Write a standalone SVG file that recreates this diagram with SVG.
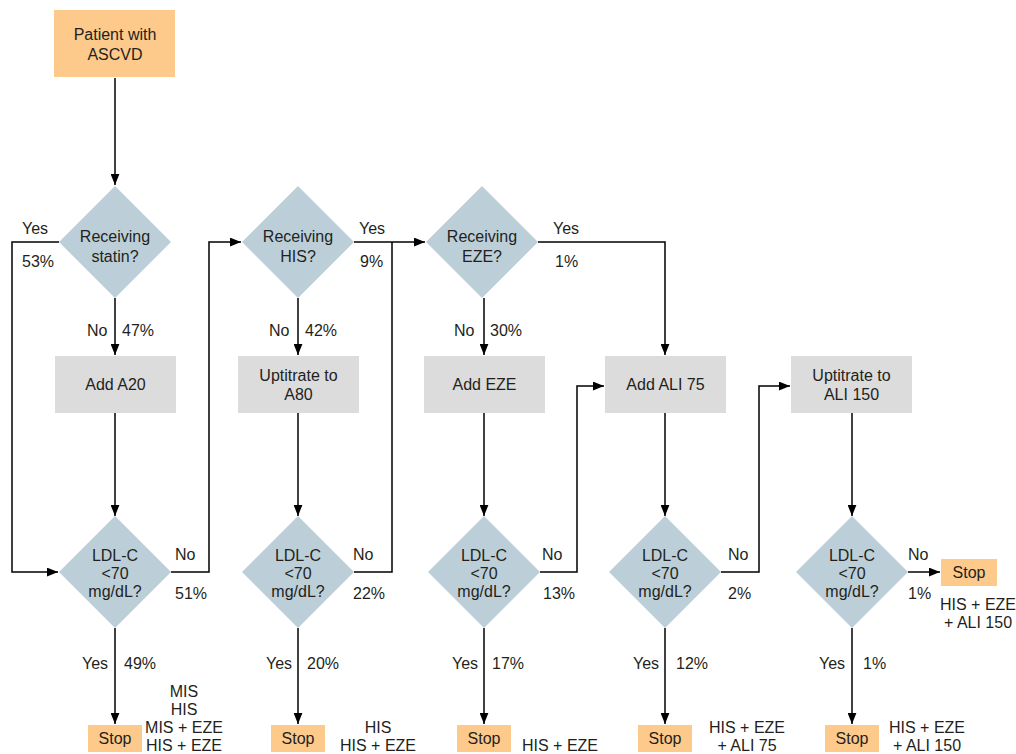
<svg xmlns="http://www.w3.org/2000/svg" width="1016" height="754" viewBox="0 0 1016 754">
<style>
text{font-family:"Liberation Sans",Arial,sans-serif;font-size:16px;fill:#231f20}
.c{text-anchor:middle}
.o{fill:#fdca8b}
.g{fill:#dcdcdc}
.d{fill:#bccfd9}
.ln{fill:none;stroke:#000;stroke-width:1.5}
</style>
<defs>
<marker id="arr" viewBox="0 0 10 8" refX="10" refY="4" markerWidth="11" markerHeight="9" markerUnits="userSpaceOnUse" orient="auto"><path d="M0,0 L10,4 L0,8 z" fill="#000"/></marker>
</defs>
<rect width="1016" height="754" fill="#fff"/>
<g id="connectors">
<path class="ln" d="M115,78 V185" marker-end="url(#arr)"/>
<path class="ln" d="M115,298 V355" marker-end="url(#arr)"/>
<path class="ln" d="M115,413 V516" marker-end="url(#arr)"/>
<path class="ln" d="M59,242 H12 V572 H58" marker-end="url(#arr)"/>
<path class="ln" d="M171,572 H209 V242 H241" marker-end="url(#arr)"/>
<path class="ln" d="M115,628 V724" marker-end="url(#arr)"/>
<path class="ln" d="M298,298 V355" marker-end="url(#arr)"/>
<path class="ln" d="M298,413 V516" marker-end="url(#arr)"/>
<path class="ln" d="M298,628 V724" marker-end="url(#arr)"/>
<path class="ln" d="M354,242 H425" marker-end="url(#arr)"/>
<path class="ln" d="M354,572 H392 V242"/>
<path class="ln" d="M484,298 V355" marker-end="url(#arr)"/>
<path class="ln" d="M484,413 V516" marker-end="url(#arr)"/>
<path class="ln" d="M484,628 V724" marker-end="url(#arr)"/>
<path class="ln" d="M538,242 H665 V355" marker-end="url(#arr)"/>
<path class="ln" d="M540,572 H577 V386 H604" marker-end="url(#arr)"/>
<path class="ln" d="M665,413 V516" marker-end="url(#arr)"/>
<path class="ln" d="M665,628 V724" marker-end="url(#arr)"/>
<path class="ln" d="M721,572 H759 V386 H790" marker-end="url(#arr)"/>
<path class="ln" d="M852,413 V516" marker-end="url(#arr)"/>
<path class="ln" d="M852,628 V724" marker-end="url(#arr)"/>
<path class="ln" d="M908,572 H940" marker-end="url(#arr)"/>
</g>
<g id="labels">
<text x="22" y="234">Yes</text>
<text x="22" y="267">53%</text>
<text x="87" y="336">No</text>
<text x="122" y="336">47%</text>
<text x="175" y="560">No</text>
<text x="175" y="599">51%</text>
<text x="82" y="669">Yes</text>
<text x="124" y="669">49%</text>
<text x="269" y="336">No</text>
<text x="305" y="336">42%</text>
<text x="359" y="234">Yes</text>
<text x="360" y="267">9%</text>
<text x="353" y="560">No</text>
<text x="353" y="599">22%</text>
<text x="266" y="669">Yes</text>
<text x="307" y="669">20%</text>
<text x="454" y="336">No</text>
<text x="490" y="336">30%</text>
<text x="553" y="234">Yes</text>
<text x="555" y="267">1%</text>
<text x="542" y="560">No</text>
<text x="543" y="599">13%</text>
<text x="452" y="669">Yes</text>
<text x="492" y="669">17%</text>
<text x="728" y="560">No</text>
<text x="728" y="599">2%</text>
<text x="633" y="669">Yes</text>
<text x="676" y="669">12%</text>
<text x="908" y="560">No</text>
<text x="908" y="599">1%</text>
<text x="819" y="669">Yes</text>
<text x="863" y="669">1%</text>
<text class="c" x="184" y="697">MIS</text>
<text class="c" x="184" y="715">HIS</text>
<text class="c" x="184" y="733">MIS + EZE</text>
<text class="c" x="184" y="751">HIS + EZE</text>
<text class="c" x="378" y="733">HIS</text>
<text class="c" x="378" y="751">HIS + EZE</text>
<text x="522" y="751">HIS + EZE</text>
<text class="c" x="747" y="733">HIS + EZE</text>
<text class="c" x="747" y="751">+ ALI 75</text>
<text class="c" x="927" y="733">HIS + EZE</text>
<text class="c" x="927" y="751">+ ALI 150</text>
<text class="c" x="978" y="610">HIS + EZE</text>
<text class="c" x="978" y="628">+ ALI 150</text>
</g>
<g id="start"><rect class="o" x="54" y="10" width="121" height="67"/><text class="c" x="115" y="40">Patient with</text><text class="c" x="115" y="60">ASCVD</text></g>
<g id="q-statin"><polygon class="d" points="115,186 171,242 115,298 59,242"/><text class="c" x="115" y="242">Receiving</text><text class="c" x="115" y="262">statin?</text></g>
<g id="q-his"><polygon class="d" points="298,186 354,242 298,298 242,242"/><text class="c" x="298" y="242">Receiving</text><text class="c" x="298" y="262">HIS?</text></g>
<g id="q-eze"><polygon class="d" points="482,186 538,242 482,298 426,242"/><text class="c" x="482" y="242">Receiving</text><text class="c" x="482" y="262">EZE?</text></g>
<g id="add-a20"><rect class="g" x="55" y="356" width="121" height="57"/><text class="c" x="115.5" y="390">Add A20</text></g>
<g id="up-a80"><rect class="g" x="238" y="356" width="121" height="57"/><text class="c" x="298.5" y="381">Uptitrate to</text><text class="c" x="298.5" y="400">A80</text></g>
<g id="add-eze"><rect class="g" x="424" y="356" width="121" height="57"/><text class="c" x="484.5" y="390">Add EZE</text></g>
<g id="add-ali75"><rect class="g" x="605" y="356" width="121" height="57"/><text class="c" x="665.5" y="390">Add ALI 75</text></g>
<g id="up-ali150"><rect class="g" x="791" y="356" width="121" height="57"/><text class="c" x="851.5" y="381">Uptitrate to</text><text class="c" x="851.5" y="400">ALI 150</text></g>
<g id="ldl1"><polygon class="d" points="115,516 171,572 115,628 59,572"/><text class="c" x="115" y="561">LDL-C</text><text class="c" x="115" y="579">&lt;70</text><text class="c" x="115" y="597">mg/dL?</text></g>
<g id="ldl2"><polygon class="d" points="298,516 354,572 298,628 242,572"/><text class="c" x="298" y="561">LDL-C</text><text class="c" x="298" y="579">&lt;70</text><text class="c" x="298" y="597">mg/dL?</text></g>
<g id="ldl3"><polygon class="d" points="484,516 540,572 484,628 428,572"/><text class="c" x="484" y="561">LDL-C</text><text class="c" x="484" y="579">&lt;70</text><text class="c" x="484" y="597">mg/dL?</text></g>
<g id="ldl4"><polygon class="d" points="665,516 721,572 665,628 609,572"/><text class="c" x="665" y="561">LDL-C</text><text class="c" x="665" y="579">&lt;70</text><text class="c" x="665" y="597">mg/dL?</text></g>
<g id="ldl5"><polygon class="d" points="852,516 908,572 852,628 796,572"/><text class="c" x="852" y="561">LDL-C</text><text class="c" x="852" y="579">&lt;70</text><text class="c" x="852" y="597">mg/dL?</text></g>
<g id="stop1"><rect class="o" x="88" y="725" width="54" height="27"/><text class="c" x="115" y="744">Stop</text></g>
<g id="stop2"><rect class="o" x="271" y="725" width="54" height="27"/><text class="c" x="298" y="744">Stop</text></g>
<g id="stop3"><rect class="o" x="457" y="725" width="54" height="27"/><text class="c" x="484" y="744">Stop</text></g>
<g id="stop4"><rect class="o" x="638" y="725" width="54" height="27"/><text class="c" x="665" y="744">Stop</text></g>
<g id="stop5"><rect class="o" x="825" y="725" width="54" height="27"/><text class="c" x="852" y="744">Stop</text></g>
<g id="stop6"><rect class="o" x="941" y="559" width="56" height="27"/><text class="c" x="969" y="578">Stop</text></g>
</svg>
